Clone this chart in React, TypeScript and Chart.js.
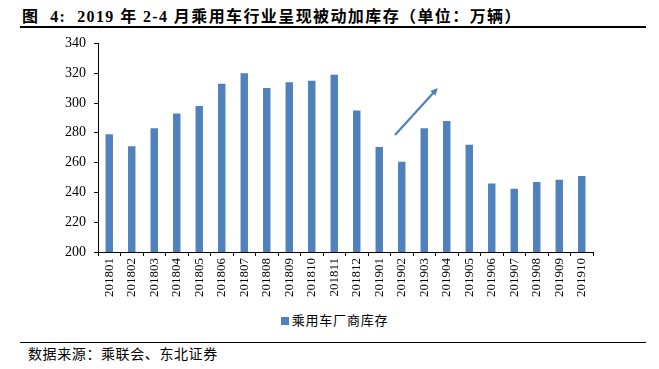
import React, { useEffect, useRef } from "react";
import { Chart, registerables } from "chart.js";

Chart.register(...registerables);

const categories = [
  "201801", "201802", "201803", "201804", "201805", "201806", "201807", "201808",
  "201809", "201810", "201811", "201812", "201901", "201902", "201903", "201904",
  "201905", "201906", "201907", "201908", "201909", "201910",
];
const inventory = [
  279, 271, 283, 293, 298, 313, 320, 310, 314, 315, 319, 295,
  270.5, 260.5, 283, 288, 272, 246, 242.5, 247, 248.5, 251,
];
const seriesName = "乘用车厂商库存";
const yTicks = [200, 220, 240, 260, 280, 300, 320, 340];
// arrow annotation in data units: [categoryIndex, value]
const arrowFrom = [12.7, 278.5];
const arrowTo = [14.6, 310];

const titleText = "图  4:  2019 年 2-4 月乘用车行业呈现被动加库存（单位：万辆）";
const sourceText = "数据来源：乘联会、东北证券";
const barColor = "#4F81BD";

const arrowPlugin = {
  id: "arrowPlugin",
  afterDatasetsDraw(chart: any) {
    const { ctx, scales } = chart;
    const x1 = scales.x.getPixelForValue(arrowFrom[0]);
    const y1 = scales.y.getPixelForValue(arrowFrom[1]);
    const x2 = scales.x.getPixelForValue(arrowTo[0]);
    const y2 = scales.y.getPixelForValue(arrowTo[1]);
    const ang = Math.atan2(y2 - y1, x2 - x1);
    const head = 8;
    ctx.save();
    ctx.strokeStyle = barColor;
    ctx.fillStyle = barColor;
    ctx.lineWidth = 2.2;
    ctx.beginPath();
    ctx.moveTo(x1, y1);
    ctx.lineTo(x2 - Math.cos(ang) * head * 0.8, y2 - Math.sin(ang) * head * 0.8);
    ctx.stroke();
    ctx.beginPath();
    ctx.moveTo(x2, y2);
    ctx.lineTo(x2 - head * Math.cos(ang - 0.45), y2 - head * Math.sin(ang - 0.45));
    ctx.lineTo(x2 - head * Math.cos(ang + 0.45), y2 - head * Math.sin(ang + 0.45));
    ctx.closePath();
    ctx.fill();
    ctx.restore();
  },
};

export default function App() {
  const ref = useRef<HTMLCanvasElement | null>(null);
  useEffect(() => {
    if (!ref.current) return;
    const chart = new Chart(ref.current, {
      type: "bar",
      data: {
        labels: categories,
        datasets: [
          {
            label: seriesName,
            data: inventory,
            backgroundColor: barColor,
            borderWidth: 0,
            barPercentage: 0.66,
            categoryPercentage: 0.5,
          },
        ],
      },
      options: {
        animation: false,
        responsive: false,
        maintainAspectRatio: false,
        layout: { padding: { left: 57, right: 66, top: 1, bottom: 0 } },
        plugins: {
          legend: { display: false },
          tooltip: { enabled: false },
        },
        scales: {
          x: {
            grid: {
              offset: true,
              drawOnChartArea: false,
              drawTicks: true,
              tickLength: 4,
              color: "#000",
            },
            border: { color: "#000", width: 1 },
            ticks: {
              autoSkip: false,
              maxRotation: 90,
              minRotation: 90,
              padding: 2,
              color: "#000",
              font: { family: "'Liberation Serif'", size: 13 },
            },
          },
          y: {
            min: 200,
            max: 340,
            afterBuildTicks: (axis: any) => {
              axis.ticks = yTicks.map((v) => ({ value: v }));
            },
            grid: {
              drawOnChartArea: false,
              drawTicks: true,
              tickLength: 4,
              color: "#000",
            },
            border: { color: "#000", width: 1 },
            ticks: {
              padding: 8,
              color: "#000",
              font: { family: "'Liberation Serif'", size: 14 },
            },
          },
        },
      },
      plugins: [arrowPlugin],
    });
    return () => chart.destroy();
  }, []);

  return (
    <div style={{ position: "relative", width: 659, height: 369, background: "#fff", margin: -8 }}>
      <div
        style={{
          position: "absolute",
          left: 22,
          top: 3,
          fontFamily: "'Liberation Serif', 'Noto Sans CJK SC'",
          fontWeight: "bold",
          fontSize: 16,
          letterSpacing: 1.4,
          whiteSpace: "pre",
          color: "#000",
        }}
      >
        {titleText}
      </div>
      <div style={{ position: "absolute", left: 20, top: 26, width: 626, height: 2, background: "#000" }} />
      <canvas ref={ref} width={659} height={272} style={{ position: "absolute", left: 0, top: 27 }} />
      <div
        style={{
          position: "absolute",
          left: 0,
          width: 659,
          top: 310,
          textAlign: "center",
          fontFamily: "'Noto Sans CJK SC'",
          fontSize: 13,
          letterSpacing: 0.8,
          color: "#000",
          paddingLeft: 10,
          boxSizing: "border-box",
        }}
      >
        <span style={{ display: "inline-block", width: 8, height: 8, background: barColor, marginRight: 3 }} />
        {seriesName}
      </div>
      <div style={{ position: "absolute", left: 20, top: 342, width: 626, height: 1, background: "#000" }} />
      <div
        style={{
          position: "absolute",
          left: 28,
          top: 343,
          fontFamily: "'Noto Sans CJK SC'",
          fontSize: 14,
          letterSpacing: 0.6,
          color: "#000",
        }}
      >
        {sourceText}
      </div>
    </div>
  );
}
